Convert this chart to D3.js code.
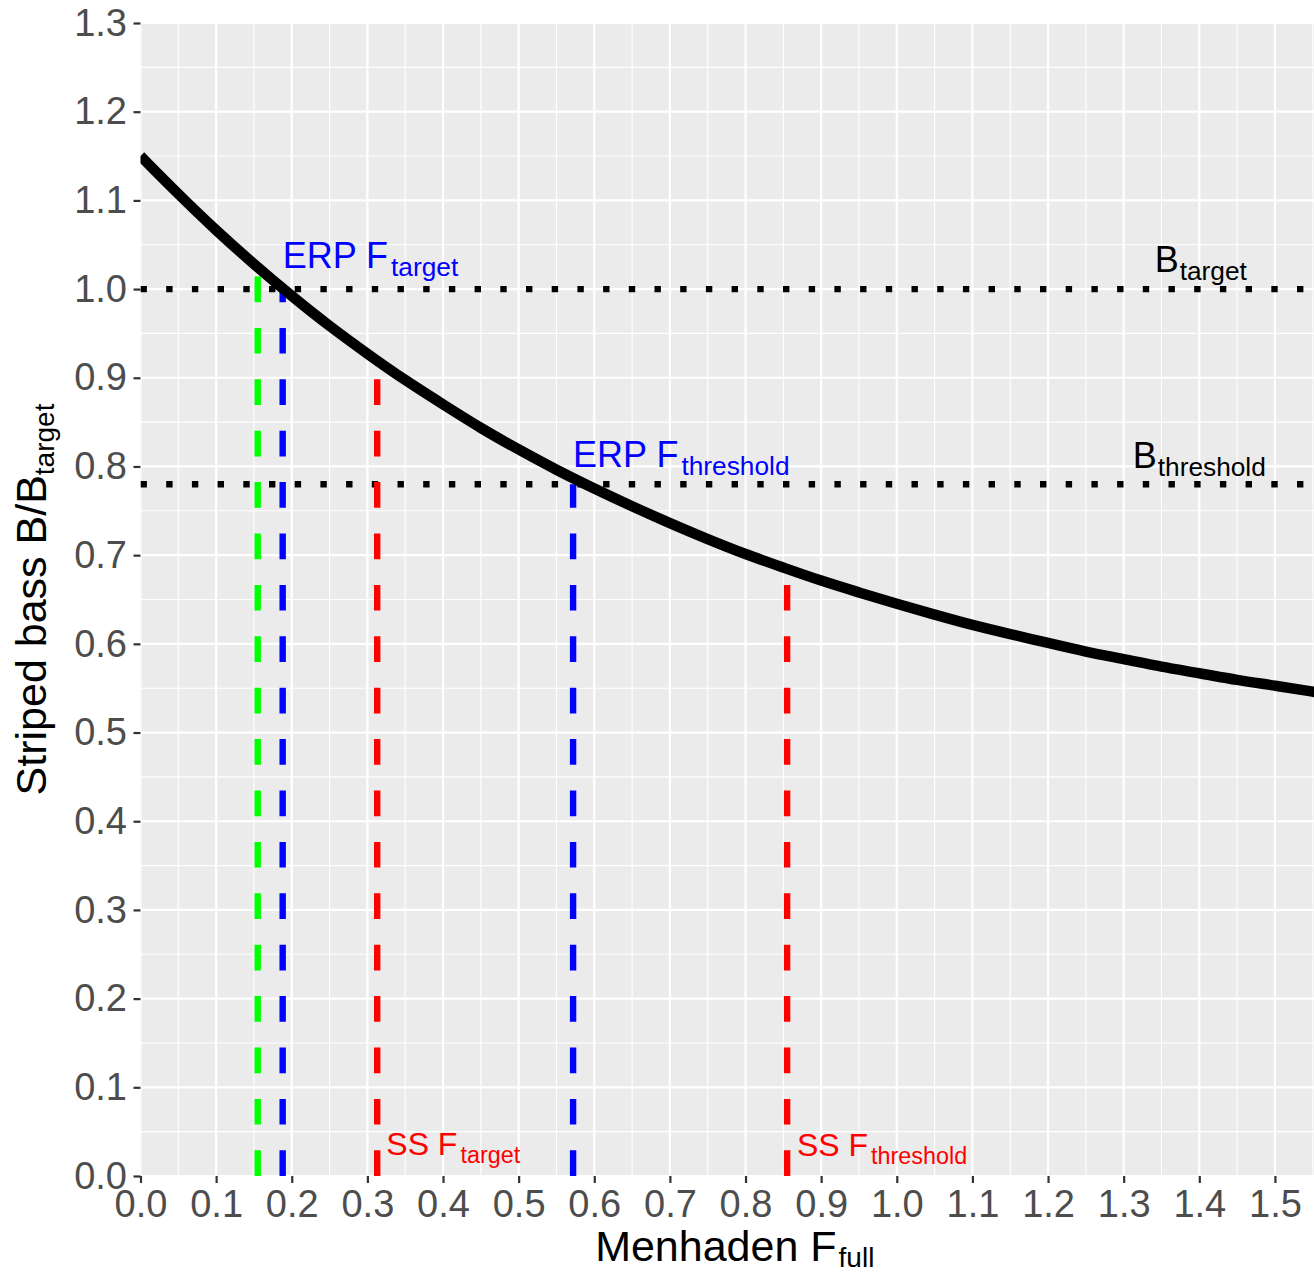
<!DOCTYPE html>
<html><head><meta charset="utf-8">
<script src="https://cdn.jsdelivr.net/npm/d3@7"></script>
<style>body{margin:0;background:#fff} svg{display:block;font-family:"Liberation Sans",Arial,sans-serif}</style>
</head><body><svg id="c" width="1314" height="1273"></svg>
<script>
// ---- data ----
const fFull = [0,0.05,0.1,0.15,0.2,0.25,0.3,0.35,0.4,0.45,0.5,0.55,0.6,0.65,0.7,0.75,0.8,0.85,0.9,0.95,1.0,1.05,1.1,1.15,1.2,1.25,1.3,1.35,1.4,1.45,1.5,1.55,1.575];
const bRatio = [1.15,1.107,1.066,1.028,0.992,0.958,0.927,0.897,0.870,0.843,0.819,0.796,0.775,0.755,0.736,0.718,0.701,0.686,0.671,0.658,0.645,0.633,0.621,0.611,0.601,0.591,0.583,0.574,0.567,0.559,0.553,0.546,0.543];
const refF     = [0.155, 0.188, 0.313, 0.572, 0.855];
const refBEnd  = [1.025, 1.0, 0.919, 0.78, 0.685];
const refColor = ["#00FF00", "#0000FF", "#FF0000", "#0000FF", "#FF0000"];
const hlineB = [1.0, 0.78];
const xTicks = [0,0.1,0.2,0.3,0.4,0.5,0.6,0.7,0.8,0.9,1.0,1.1,1.2,1.3,1.4,1.5];
const yTicks = [0,0.1,0.2,0.3,0.4,0.5,0.6,0.7,0.8,0.9,1.0,1.1,1.2,1.3];
const labelMain  = ["ERP F", "ERP F", "B", "B", "SS F", "SS F"];
const labelSub   = ["target", "threshold", "target", "threshold", "target", "threshold"];
const labelF     = [0.188, 0.572, 1.341, 1.312, 0.325, 0.868];
const labelB     = [1.024, 0.799, 1.019, 0.798, 0.024, 0.022];
const labelColor = ["#0000FF", "#0000FF", "#000000", "#000000", "#FF0000", "#FF0000"];
const labelSize  = [36, 36, 36, 36, 32, 32];

// ---- layout ----
const L = 140.5, R = 1329, T = 23, B = 1176;
const x = d3.scaleLinear().domain([0, 1.5715]).range([L, R]);
const y = d3.scaleLinear().domain([0, 1.3]).range([B, T]);
const svg = d3.select("#c");

svg.append("defs").append("clipPath").attr("id","pc")
  .append("rect").attr("x",L).attr("y",T).attr("width",R-L).attr("height",B-T);

svg.append("rect").attr("x",L).attr("y",T).attr("width",R-L).attr("height",B-T).attr("fill","#EBEBEB");

const grid = svg.append("g").attr("clip-path","url(#pc)");
const xMinor = d3.range(0.05, 1.6, 0.1), yMinor = d3.range(0.05, 1.3, 0.1);
grid.selectAll(".xm").data(xMinor).join("line").attr("x1",d=>x(d)).attr("x2",d=>x(d)).attr("y1",T).attr("y2",B).attr("stroke","#fff").attr("stroke-width",1.1);
grid.selectAll(".ym").data(yMinor).join("line").attr("y1",d=>y(d)).attr("y2",d=>y(d)).attr("x1",L).attr("x2",R).attr("stroke","#fff").attr("stroke-width",1.1);
grid.selectAll(".xM").data(xTicks).join("line").attr("x1",d=>x(d)).attr("x2",d=>x(d)).attr("y1",T).attr("y2",B).attr("stroke","#fff").attr("stroke-width",2.2);
grid.selectAll(".yM").data(yTicks).join("line").attr("y1",d=>y(d)).attr("y2",d=>y(d)).attr("x1",L).attr("x2",R).attr("stroke","#fff").attr("stroke-width",2.2);

const plot = svg.append("g").attr("clip-path","url(#pc)");
// dotted horizontal reference lines
plot.selectAll(".hl").data(hlineB).join("line")
  .attr("x1",x(0)).attr("x2",R).attr("y1",d=>y(d)).attr("y2",d=>y(d))
  .attr("stroke","#000").attr("stroke-width",6.4).attr("stroke-dasharray","6.4 19.3");
// dashed vertical reference lines (drawn upward from 0)
plot.selectAll(".vl").data(refF).join("path")
  .attr("d",(d,i)=>`M${x(d)},${y(0)}L${x(d)},${y(refBEnd[i])}`)
  .attr("stroke",(d,i)=>refColor[i]).attr("stroke-width",6.4).attr("fill","none")
  .attr("stroke-dasharray","25.7 25.7");
// curve
const pts = fFull.map((f,i)=>[f,bRatio[i]]);
plot.append("path").datum(pts)
  .attr("d", d3.line().x(d=>x(d[0])).y(d=>y(d[1])).curve(d3.curveBasis))
  .attr("fill","none").attr("stroke","#000").attr("stroke-width",10.5).attr("stroke-linejoin","round");

// axes
const xAxis = svg.append("g").attr("transform",`translate(0,${B})`)
  .call(d3.axisBottom(x).tickValues(xTicks).tickFormat(d3.format(".1f")).tickSize(7).tickPadding(7));
const yAxis = svg.append("g").attr("transform",`translate(${L},0)`)
  .call(d3.axisLeft(y).tickValues(yTicks).tickFormat(d3.format(".1f")).tickSize(7).tickPadding(6.5));
[xAxis,yAxis].forEach(a=>{
  a.select(".domain").remove();
  a.selectAll(".tick line").attr("stroke","#333").attr("stroke-width",2.2);
  a.selectAll(".tick text").attr("fill","#4D4D4D").attr("font-size",38).attr("font-family","Liberation Sans, Arial, sans-serif");
});

// annotations
labelMain.forEach((m,i)=>{
  const t = svg.append("text").attr("x",x(labelF[i])).attr("y",y(labelB[i]))
    .attr("fill",labelColor[i]).attr("font-size",labelSize[i]);
  t.append("tspan").text(m);
  t.append("tspan").attr("dx", m.endsWith("F") ? 3 : 1).attr("dy",8)
    .attr("font-size",labelSize[i]*0.73).text(labelSub[i]);
});

// axis titles
const xt = svg.append("text").attr("x",(L+R)/2).attr("y",1261).attr("text-anchor","middle").attr("font-size",43).attr("fill","#000");
xt.append("tspan").text("Menhaden F");
xt.append("tspan").attr("dx",2).attr("dy",6).attr("font-size",28).text("full");
const yt = svg.append("text").attr("transform",`translate(46,${(T+B)/2}) rotate(-90)`).attr("text-anchor","middle").attr("font-size",43).attr("fill","#000");
yt.append("tspan").text("Striped bass B/B");
yt.append("tspan").attr("dy",8).attr("font-size",28).text("target");
</script></body></html>
